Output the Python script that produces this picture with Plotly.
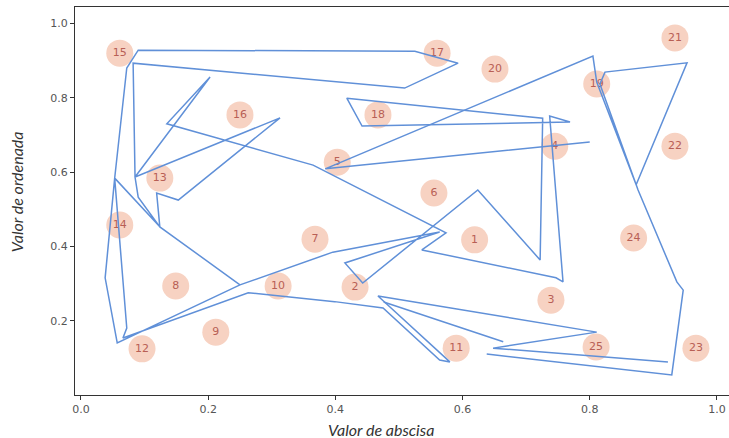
import plotly.graph_objects as go

# Labelled nodes (data coordinates)
node_labels = [str(i) for i in range(1, 26)]
node_x = [0.619, 0.431, 0.739, 0.745, 0.403, 0.555, 0.368, 0.149, 0.212, 0.310,
          0.590, 0.096, 0.124, 0.061, 0.061, 0.250, 0.560, 0.467, 0.811, 0.651,
          0.934, 0.934, 0.967, 0.869, 0.810]
node_y = [0.418, 0.291, 0.256, 0.670, 0.627, 0.544, 0.420, 0.294, 0.170, 0.294,
          0.127, 0.125, 0.584, 0.458, 0.920, 0.754, 0.920, 0.754, 0.837, 0.877,
          0.961, 0.670, 0.127, 0.423, 0.130]

# Path chains (data coordinates)
chain1_x = [0.638, 0.929, 0.947, 0.937, 0.876, 0.816, 0.824, 0.953, 0.873, 0.811, 0.805, 0.384, 0.800]
chain1_y = [0.111, 0.055, 0.283, 0.305, 0.552, 0.837, 0.869, 0.894, 0.566, 0.842, 0.912, 0.609, 0.681]

chain2_x = [0.923, 0.648, 0.670, 0.811, 0.467, 0.580, 0.564, 0.475, 0.399, 0.263,
            0.066, 0.072, 0.053, 0.038, 0.057, 0.250, 0.396, 0.564, 0.415, 0.443,
            0.624, 0.722, 0.726, 0.418, 0.442, 0.769, 0.737, 0.758, 0.747, 0.536,
            0.574, 0.381, 0.365, 0.135, 0.203, 0.085, 0.082, 0.509, 0.593, 0.525,
            0.090, 0.072, 0.053, 0.124, 0.119, 0.153, 0.313, 0.085, 0.090, 0.124, 0.250]
chain2_y = [0.090, 0.127, 0.133, 0.170, 0.267, 0.090, 0.095, 0.235, 0.252, 0.276,
            0.154, 0.181, 0.584, 0.316, 0.141, 0.297, 0.385, 0.439, 0.356, 0.302,
            0.552, 0.364, 0.745, 0.799, 0.724, 0.735, 0.751, 0.305, 0.316, 0.391,
            0.437, 0.606, 0.619, 0.730, 0.856, 0.587, 0.893, 0.826, 0.893, 0.925,
            0.928, 0.880, 0.584, 0.453, 0.544, 0.525, 0.746, 0.587, 0.533, 0.453, 0.297]

chain3_x = [0.476, 0.664]
chain3_y = [0.251, 0.144]

path_x = chain1_x + [None] + chain2_x + [None] + chain3_x
path_y = chain1_y + [None] + chain2_y + [None] + chain3_y

fig = go.Figure()
fig.add_trace(go.Scatter(
    x=node_x, y=node_y, mode="markers+text", text=node_labels,
    textposition="middle center",
    marker=dict(size=27, color="#f7d2c2", line=dict(width=0)),
    textfont=dict(family="DejaVu Sans", size=11, color="#b85f55"),
    hoverinfo="skip", showlegend=False))
fig.add_trace(go.Scatter(
    x=path_x, y=path_y, mode="lines", connectgaps=False,
    line=dict(color="#6090d8", width=1.5),
    hoverinfo="skip", showlegend=False))

fig.update_layout(
    width=729, height=438,
    margin=dict(l=75, r=0, t=7, b=43),
    paper_bgcolor="white", plot_bgcolor="white",
    xaxis=dict(range=[-0.0094, 1.019], tickvals=[0, 0.2, 0.4, 0.6, 0.8, 1.0],
               ticktext=["0.0", "0.2", "0.4", "0.6", "0.8", "1.0"],
               showgrid=False, zeroline=False, showline=True, mirror=True,
               linecolor="#333", linewidth=1.3, ticks="outside", ticklen=4,
               tickcolor="#333", tickfont=dict(family="DejaVu Sans", size=11, color="#555")),
    yaxis=dict(range=[0.001, 1.044], tickvals=[0.2, 0.4, 0.6, 0.8, 1.0],
               ticktext=["0.2", "0.4", "0.6", "0.8", "1.0"],
               showgrid=False, zeroline=False, showline=True, mirror=False,
               linecolor="#333", linewidth=1.3, ticks="outside", ticklen=4,
               tickcolor="#333", tickfont=dict(family="DejaVu Sans", size=11, color="#555")),
    annotations=[
        dict(text="<i>Valor de abscisa</i>", xref="paper", yref="paper",
             x=0.468, y=-0.09, showarrow=False, xanchor="center", yanchor="middle",
             font=dict(family="Lato", size=16, color="#333")),
        dict(text="<i>Valor de ordenada</i>", xref="paper", yref="paper",
             x=-0.09, y=0.523, showarrow=False, textangle=-90,
             xanchor="center", yanchor="middle",
             font=dict(family="Lato", size=16, color="#333")),
    ],
)

fig.write_html("out.html")
